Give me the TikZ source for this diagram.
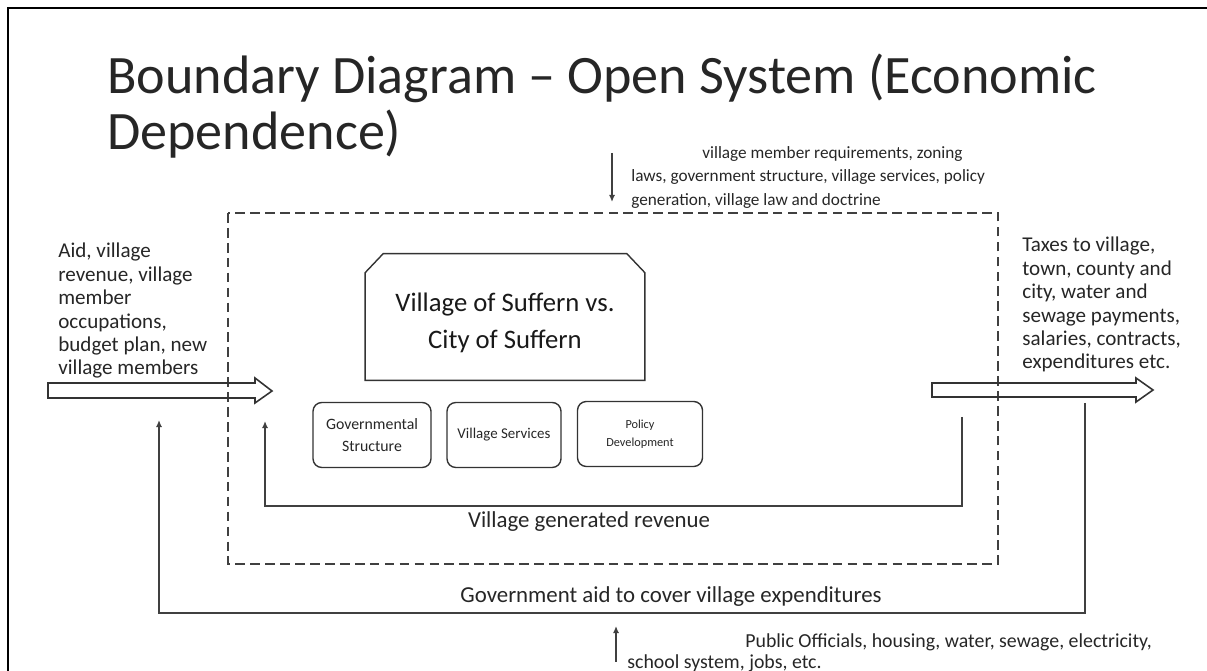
\documentclass[tikz,border=0pt]{standalone}
\usepackage{fontspec}
\setmainfont{Carlito}
\usetikzlibrary{arrows.meta,calc}

\tikzset{
	heading/.style={font=\fontsize{30.8}{31.5}\selectfont, align=left, inner sep=0pt, text=black!85},
	flowtext/.style={font=\fontsize{12}{13.3}\selectfont, align=left, inner sep=0pt, text=black!85},
	subbox/.style={draw=black!80, thick, rounded corners=5pt, align=center, inner sep=0pt, minimum height=1.3cm, text=black!85},
	loopline/.style={draw=black!75, line width=1.1pt, -{Latex[length=4pt,width=3.5pt]}},
	bigarrow/.style={draw=black!80, line width=0.9pt, line join=miter},
}

\begin{document}
\begin{tikzpicture}[x=0.02cm,y=-0.02cm]
	\useasboundingbox (0,0) rectangle (1207,671);

	% frame
	\draw[line width=1.6pt] (8,671) -- (8,8) -- (1207,8);

	% title
	\node[heading,anchor=west] (title) at (107,106) {Boundary Diagram -- Open System (Economic\\Dependence)};

	% system boundary
	\draw[thick,black!75,dash pattern=on 5.5pt off 3pt] (228,213) rectangle (998,564);

	% main box
	\node[font=\fontsize{15.2}{21}\selectfont, align=center, minimum width=5.58cm, minimum height=2.52cm, inner sep=0pt, text=black!90] (suffern) at (505,323) {Village of Suffern vs.\\City of Suffern};
	\draw[thick,black!80] ($(suffern.south west)+(0,-6)$) -- ($(suffern.north west)+(0,13)$) -- ($(suffern.north west)+(18,-6)$)
		-- ($(suffern.north east)+(-18,-6)$) -- ($(suffern.north east)+(0,13)$) -- ($(suffern.south east)+(0,-6)$) -- cycle;

	% parts of the village
	\node[subbox,minimum width=2.36cm,font=\fontsize{9}{13}\selectfont] (gov) at (372,435) {Governmental\\Structure};
	\node[subbox,minimum width=2.28cm,font=\fontsize{8.5}{12}\selectfont] (services) at (504,435) {Village Services};
	\node[subbox,minimum width=2.5cm,font=\fontsize{7}{10}\selectfont] (policy) at (640,434) {Policy\\Development};

	% inputs and outputs
	\node[flowtext,font=\fontsize{9.8}{13.3}\selectfont,anchor=north west] (inputs) at (631,146) {\hspace*{1.42cm}village member requirements, zoning\\laws, government structure, village services, policy\\generation, village law and doctrine};
	\coordinate (inTop) at (612,153);
	\coordinate (inTopEnd) at (612,202);
	\draw[loopline] (inTop) -- (inTopEnd);

	\node[flowtext,anchor=north west] (aid) at (58,243) {Aid, village\\revenue, village\\member\\occupations,\\budget plan, new\\village members};
	\node[flowtext,anchor=north west] (taxes) at (1022,237) {Taxes to village,\\town, county and\\city, water and\\sewage payments,\\salaries, contracts,\\expenditures etc.};

	% block arrows
	\draw[bigarrow] (48,383) -- (255,383) -- (255,378) -- (272,391) -- (255,403) -- (255,398) -- (48,398) -- cycle;
	\draw[bigarrow] (932,383) -- (1136,383) -- (1136,378) -- (1153,390) -- (1136,402) -- (1136,397) -- (932,397) -- cycle;

	% revenue loop
	\coordinate (revStart) at (962,417);
	\coordinate (revEnd) at (265,421);
	\draw[loopline] (revStart) |- (265,506) -- (revEnd);
	\node[flowtext,font=\fontsize{13}{14}\selectfont] (revenue) at (589,522) {Village generated revenue};

	% government aid loop
	\coordinate (aidStart) at (1085,403);
	\coordinate (aidEnd) at (159,420);
	\draw[loopline] (aidStart) |- (159,613) -- (aidEnd);
	\node[flowtext,font=\fontsize{13}{14}\selectfont] (govaid) at (671,597) {Government aid to cover village expenditures};

	% environment
	\coordinate (envStart) at (616,662);
	\coordinate (envEnd) at (616,626);
	\draw[loopline] (envStart) -- (envEnd);
	\node[flowtext,font=\fontsize{11.3}{12}\selectfont,anchor=north west] (env) at (627,633) {\hspace*{2.36cm}Public Officials, housing, water, sewage, electricity,\\school system, jobs, etc.};

\end{tikzpicture}
\end{document}
